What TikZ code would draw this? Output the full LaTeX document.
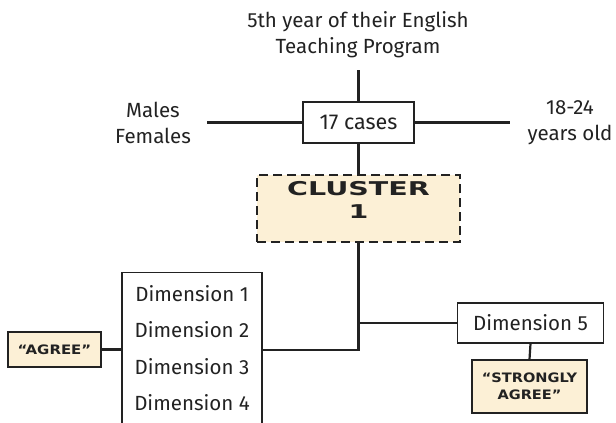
\documentclass[tikz,border=0pt]{standalone}
\usepackage{fontspec}
\setmainfont{Fira Sans}
\newfontfamily\pixfont{DejaVu Sans}[BoldFont={DejaVu Sans Bold}]
\definecolor{beige}{HTML}{FCF0D6}
\definecolor{ink}{HTML}{222222}
\begin{document}
\begin{tikzpicture}[x=1pt,y=-1pt,
  line width=2.2pt, draw=ink,
  txt/.style={text=ink, font=\fontsize{20.5}{26}\selectfont, align=center, inner sep=0pt},
  wbox/.style={draw=ink, fill=white, line width=1.4pt, rectangle, inner sep=0pt, text=ink, font=\fontsize{20.5}{26}\selectfont},
  ybox/.style={draw=ink, fill=beige, line width=1.4pt, rectangle, inner sep=0pt, text=ink, align=center},
  conn/.style={draw=ink, line width=2.2pt}]
\useasboundingbox (0,0) rectangle (616,423);
\fill[white] (0,0) rectangle (616,423);
\begin{scope}
\clip (0,0) rectangle (616,423);
% top text
\node[txt] (top) at (358,35) {5th year of their English\\Teaching Program};
\node[wbox, minimum width=111pt, minimum height=41pt, font=\fontsize{21.5}{26}\selectfont] (cases) at (358.5,122.5) {17 cases};
\node[txt] (mf) at (153,123) {Males\\Females};
\node[txt] (age) at (570,123) {18-24\\years old};
\coordinate (topend) at (358.5,70);
\coordinate (mfend) at (207,122.5);
\coordinate (ageend) at (510,122.5);
\node[ybox, dashed, dash pattern=on 9pt off 5pt, minimum width=203pt, minimum height=67pt] (cluster) at (358.5,208.5) {};
\node[text=ink, align=center, inner sep=0pt, font=\fontsize{19}{23}\selectfont] (clustertext) at (358.5,199.5)
  {\scalebox{1.5}[1]{\pixfont\bfseries CLUSTER}\\\scalebox{1.5}[1]{\pixfont\bfseries 1}};
\node[wbox, minimum width=140pt, minimum height=180pt, anchor=north] (dimbox) at (192,272) {};
\node[txt] (d1) at (192,294) {Dimension 1};
\node[txt] (d2) at (192,330) {Dimension 2};
\node[txt] (d3) at (192,367) {Dimension 3};
\node[txt] (d4) at (192,403) {Dimension 4};
\node[ybox, minimum width=93pt, minimum height=35pt, font=\fontsize{13}{15}\selectfont] (agree) at (54.5,349.5)
  {\scalebox{1.15}[1]{\pixfont\bfseries “AGREE”}};
\node[wbox, minimum width=146pt, minimum height=40pt] (dim5) at (530.5,323) {Dimension 5};
\node[ybox, minimum width=115pt, minimum height=53pt, font=\fontsize{13}{17}\selectfont] (strong) at (529.5,386.5)
  {\scalebox{1.12}[1]{\pixfont\bfseries “STRONGLY}\\\scalebox{1.12}[1]{\pixfont\bfseries AGREE”}};
\coordinate (j1) at (358.5,350);
\coordinate (j2) at (358.5,323);
% connectors
\draw[conn] (topend) -- (cases.north);
\draw[conn] (mfend) -- (cases.west);
\draw[conn] (cases.east) -- (ageend);
\draw[conn] (cases.south) -- (cluster.north);
\draw[conn] (cluster.south) -- (j1) -- (dimbox.east |- j1);
\draw[conn] (j2) -- (dim5.west);
\draw[conn] (agree.east) -- (dimbox.west |- agree.east);
\draw[conn] (dim5.south) -- (strong.north);
\end{scope}
\end{tikzpicture}
\end{document}
